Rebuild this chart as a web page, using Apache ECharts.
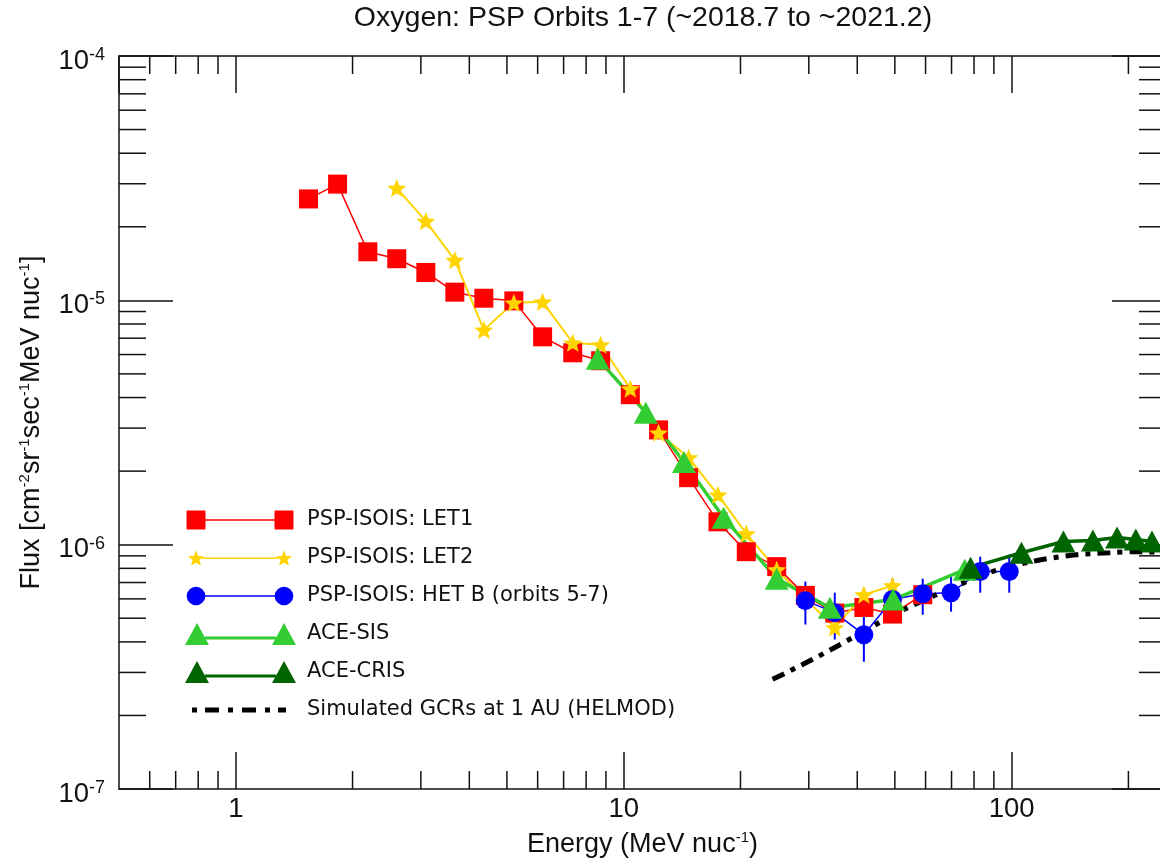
<!DOCTYPE html>
<html>
<head>
<meta charset="utf-8">
<title>Oxygen: PSP Orbits 1-7</title>
<script src="https://cdn.jsdelivr.net/npm/echarts@6.0.0/dist/echarts.min.js"></script>
<style>
html, body { margin: 0; padding: 0; background: #fff; }
#main { width: 1160px; height: 862px; }
</style>
</head>
<body>
<div id="main"></div>
<script>
// energies in MeV/nuc, flux in (cm^2 sr sec MeV/nuc)^-1
const energyLet1 = [1.54, 1.83, 2.19, 2.60, 3.09, 3.67, 4.36, 5.21, 6.18, 7.39, 8.72, 10.4, 12.3, 14.7, 17.5, 20.7, 24.8, 29.4, 35.0, 41.6, 49.3, 59.0];
const fluxLet1 = [2.60e-5, 2.99e-5, 1.58e-5, 1.48e-5, 1.30e-5, 1.08e-5, 1.02e-5, 9.95e-6, 7.09e-6, 6.10e-6, 5.66e-6, 4.11e-6, 2.95e-6, 1.88e-6, 1.24e-6, 9.36e-7, 8.13e-7, 6.2e-7, 5.25e-7, 5.53e-7, 5.2e-7, 6.24e-7];

const energyLet2 = [2.60, 3.09, 3.67, 4.36, 5.21, 6.18, 7.39, 8.72, 10.4, 12.3, 14.7, 17.5, 20.7, 24.8, 29.4, 35.0, 41.6, 49.3];
const fluxLet2 = [2.88e-5, 2.11e-5, 1.46e-5, 7.57e-6, 9.77e-6, 9.86e-6, 6.70e-6, 6.58e-6, 4.35e-6, 2.87e-6, 2.27e-6, 1.60e-6, 1.11e-6, 7.9e-7, 6.0e-7, 4.58e-7, 6.24e-7, 6.80e-7];

const energyHet = [29.4, 35.0, 41.6, 49.3, 59.0, 69.8, 83.0, 98.6];
const fluxHet = [5.9e-7, 5.27e-7, 4.28e-7, 5.96e-7, 6.3e-7, 6.36e-7, 7.76e-7, 7.76e-7];
const fluxHetLow = [4.71e-7, 4.09e-7, 3.32e-7, 4.84e-7, 5.17e-7, 5.32e-7, 6.36e-7, 6.36e-7];
const fluxHetHigh = [7.06e-7, 6.36e-7, 5.17e-7, 7.26e-7, 7.26e-7, 7.40e-7, 8.93e-7, 9.1e-7];

const energySis = [8.57, 11.4, 14.3, 18.1, 24.8, 34.0, 49.5, 75.7];
const fluxSis = [5.77e-6, 3.47e-6, 2.18e-6, 1.29e-6, 7.26e-7, 5.52e-7, 5.96e-7, 7.9e-7];

const energyCris = [78.4, 106, 136, 162, 187, 209, 230];
const fluxCris = [8.05e-7, 9.27e-7, 1.03e-6, 1.04e-6, 1.07e-6, 1.05e-6, 1.03e-6];

const energyGcr = [24.2, 28.9, 35.4, 42.3, 51.4, 61.5, 73.5, 84.2, 98.9, 120, 147, 179, 210, 250];
const fluxGcr = [2.81e-7, 3.23e-7, 3.83e-7, 4.49e-7, 5.32e-7, 6.07e-7, 6.86e-7, 7.54e-7, 8.13e-7, 8.69e-7, 9.10e-7, 9.27e-7, 9.36e-7, 9.3e-7];

const xRange = [0.5, 250];
const yRange = [1e-7, 1e-4];
const minorSteps = [2, 3, 4, 5, 6, 7, 8, 9];

function zip(a, b, c) {
    return a.map(function (v, i) { return c ? [v, b[i], c[i]] : [v, b[i]]; });
}

function minorValues(lo, hi) {
    var out = [];
    for (var e = Math.floor(Math.log10(lo)); e <= Math.ceil(Math.log10(hi)); e++) {
        minorSteps.forEach(function (m) {
            var v = m * Math.pow(10, e);
            if (v > lo * 1.0001 && v < hi * 0.9999) out.push(v);
        });
    }
    return out;
}

function starPath(cx, cy, R, r) {
    var pts = [];
    for (var i = 0; i < 10; i++) {
        var a = -Math.PI / 2 + i * Math.PI / 5;
        var d = i % 2 ? r : R;
        pts.push((cx + d * Math.cos(a)).toFixed(2) + ' ' + (cy + d * Math.sin(a)).toFixed(2));
    }
    return 'M' + pts.join('L') + 'Z';
}

function circlePath(cx, cy, r) {
    return 'M' + (cx - r) + ' ' + cy + 'A' + r + ' ' + r + ' 0 1 1 ' + (cx + r) + ' ' + cy +
        'A' + r + ' ' + r + ' 0 1 1 ' + (cx - r) + ' ' + cy + 'Z';
}

// legend icons: symbol - line - symbol, all in a 111x22 box
const box = 'M0 0M111 22';
const icons = {
    let1: 'path://' + box + 'M1.5 1.5H20.5V10.25H89.5V1.5H108.5V20.5H89.5V11.75H20.5V20.5H1.5Z',
    let2: 'path://' + box + starPath(11, 11.8, 8.5, 3.6) + starPath(99, 11.8, 8.5, 3.6) + 'M17 10.6H93V12H17Z',
    het: 'path://' + box + circlePath(11, 11, 9.3) + circlePath(99, 11, 9.3) + 'M20 10.25H90V11.75H20Z',
    tri: 'path://' + box + 'M0 22L12 0L24 22ZM87 22L99 0L111 22ZM20 13.5H91V16.5H20Z',
    gcr: 'path://' + box + 'M7 8.5H12V13.5H7ZM20 8.5H34V13.5H20ZM43 8.5H48V13.5H43ZM57 8.5H71V13.5H57ZM80 8.5H85V13.5H80ZM93 8.5H101V13.5H93Z'
};

const black = '#111';
const tickStyle = { color: black, width: 1.5 };

function powLabel(v) {
    return '{b|10}{s|' + Math.round(Math.log10(v)) + '}';
}

function plainLabel(v) {
    return '{b|' + Math.round(v) + '}';
}

const labelRich = {
    b: { fontFamily: 'Liberation Sans', fontSize: 27.5, lineHeight: 30, color: black },
    s: { fontFamily: 'Liberation Sans', fontSize: 18, lineHeight: 12, verticalAlign: 'top', color: black }
};
const nameRich = {
    a: { fontFamily: 'Liberation Sans', fontSize: 27, lineHeight: 30, color: black },
    s: { fontFamily: 'Liberation Sans', fontSize: 15, lineHeight: 12, verticalAlign: 'top', color: black }
};

function minorX(params, api) {
    var cs = params.coordSys;
    var px = api.coord([api.value(0), 1e-6])[0];
    var yb = cs.y + cs.height;
    return {
        type: 'group', children: [
            { type: 'line', shape: { x1: px, y1: yb, x2: px, y2: yb - 18 }, style: { stroke: black, lineWidth: 1.5 } },
            { type: 'line', shape: { x1: px, y1: cs.y, x2: px, y2: cs.y + 18 }, style: { stroke: black, lineWidth: 1.5 } }
        ]
    };
}

function minorY(params, api) {
    var cs = params.coordSys;
    var py = api.coord([1, api.value(1)])[1];
    var xr = cs.x + cs.width;
    return {
        type: 'group', children: [
            { type: 'line', shape: { x1: cs.x, y1: py, x2: cs.x + 27, y2: py }, style: { stroke: black, lineWidth: 1.5 } },
            { type: 'line', shape: { x1: xr, y1: py, x2: xr - 27, y2: py }, style: { stroke: black, lineWidth: 1.5 } }
        ]
    };
}

function errorBar(params, api) {
    var top = api.coord([api.value(0), api.value(2)]);
    var bottom = api.coord([api.value(0), api.value(1)]);
    return {
        type: 'line',
        shape: { x1: top[0], y1: top[1], x2: bottom[0], y2: bottom[1] },
        style: { stroke: '#0000ff', lineWidth: 2 }
    };
}

function logAxis(range, pos, extra) {
    var ax = {
        type: 'log',
        logBase: 10,
        min: range[0],
        max: range[1],
        position: pos,
        splitLine: { show: false },
        axisLine: { show: true, onZero: false, lineStyle: tickStyle },
        axisTick: { show: true, inside: true, lineStyle: tickStyle },
        axisLabel: { show: false }
    };
    return Object.assign(ax, extra);
}

const chart = echarts.init(document.getElementById('main'));
chart.setOption({
    animation: false,
    backgroundColor: '#fff',
    title: {
        text: 'Oxygen: PSP Orbits 1-7 (~2018.7 to ~2021.2)',
        left: 643,
        top: 4,
        padding: 0,
        textAlign: 'center',
        textStyle: { fontFamily: 'Liberation Sans', fontSize: 28.5, fontWeight: 'normal', color: black }
    },
    grid: { left: 119, top: 56, width: 1047, height: 733, containLabel: false, outerBoundsMode: 'none' },
    legend: {
        orient: 'vertical',
        left: 180,
        top: 504,
        itemWidth: 123,
        itemHeight: 22,
        itemGap: 16,
        selectedMode: false,
        textStyle: { fontFamily: 'DejaVu Sans', fontSize: 21, color: black },
        data: [
            { name: 'PSP-ISOIS: LET1', icon: icons.let1 },
            { name: 'PSP-ISOIS: LET2', icon: icons.let2 },
            { name: 'PSP-ISOIS: HET B (orbits 5-7)', icon: icons.het },
            { name: 'ACE-SIS', icon: icons.tri },
            { name: 'ACE-CRIS', icon: icons.tri },
            { name: 'Simulated GCRs at 1 AU (HELMOD)', icon: icons.gcr }
        ]
    },
    xAxis: [
        logAxis(xRange, 'bottom', {
            axisTick: { show: true, inside: true, length: 37, lineStyle: tickStyle },
            axisLabel: { show: true, margin: 5, formatter: plainLabel, rich: labelRich, showMinLabel: false, showMaxLabel: false },
            name: '{a|Energy (MeV nuc}{s|-1}{a|)}',
            nameLocation: 'middle',
            nameGap: 41,
            nameMoveOverlap: false,
            nameTextStyle: { rich: nameRich }
        }),
        logAxis(xRange, 'top', {
            axisTick: { show: true, inside: true, length: 37, lineStyle: tickStyle }
        })
    ],
    yAxis: [
        logAxis(yRange, 'left', {
            axisTick: { show: true, inside: true, length: 54, lineStyle: tickStyle },
            axisLabel: { show: true, margin: 14, padding: [10, 0, 0, 0], formatter: powLabel, rich: labelRich, showMinLabel: true, showMaxLabel: true },
            name: '{a|Flux [cm}{s|-2}{a|sr}{s|-1}{a|sec}{s|-1}{a|MeV nuc}{s|-1}{a|]}',
            nameLocation: 'middle',
            nameGap: 72,
            nameMoveOverlap: false,
            nameTextStyle: { rich: nameRich }
        }),
        logAxis(yRange, 'right', {
            axisTick: { show: true, inside: true, length: 54, lineStyle: tickStyle }
        })
    ],
    series: [
        {
            name: 'minorX', type: 'custom', silent: true, z: 1,
            data: minorValues(xRange[0], xRange[1]).map(function (v) { return [v, 1e-6]; }),
            encode: { x: 0, y: 1 }, renderItem: minorX
        },
        {
            name: 'minorY', type: 'custom', silent: true, z: 1,
            data: minorValues(yRange[0], yRange[1]).map(function (v) { return [1, v]; }),
            encode: { x: 0, y: 1 }, renderItem: minorY
        },
        {
            name: 'PSP-ISOIS: LET1', type: 'line', data: zip(energyLet1, fluxLet1),
            symbol: 'rect', symbolSize: 19,
            lineStyle: { color: '#ff0000', width: 1.5 },
            itemStyle: { color: '#ff0000', borderWidth: 0 }
        },
        {
            name: 'PSP-ISOIS: LET2', type: 'line', data: zip(energyLet2, fluxLet2),
            symbol: 'path://' + starPath(0, 0, 10, 4.4), symbolSize: 19, symbolKeepAspect: true,
            lineStyle: { color: '#ffd400', width: 2 },
            itemStyle: { color: '#ffd400', borderWidth: 0 }
        },
        {
            name: 'HET B errors', type: 'custom', silent: true,
            data: zip(energyHet, fluxHetLow, fluxHetHigh),
            encode: { x: 0, y: [1, 2] }, renderItem: errorBar
        },
        {
            name: 'PSP-ISOIS: HET B (orbits 5-7)', type: 'line', data: zip(energyHet, fluxHet),
            symbol: 'circle', symbolSize: 19,
            lineStyle: { color: '#0000ff', width: 1.5 },
            itemStyle: { color: '#0000ff', borderWidth: 0 }
        },
        {
            name: 'Simulated GCRs at 1 AU (HELMOD)', type: 'line', data: zip(energyGcr, fluxGcr),
            symbol: 'none', smooth: 0.3,
            lineStyle: { color: '#000', width: 5, type: [13, 7, 5, 7], cap: 'butt' },
            itemStyle: { color: '#000', borderWidth: 0 }
        },
        {
            name: 'ACE-SIS', type: 'line', data: zip(energySis, fluxSis),
            symbol: 'triangle', symbolSize: [24, 22],
            lineStyle: { color: '#33cc33', width: 3.5 },
            itemStyle: { color: '#33cc33', borderWidth: 0 }
        },
        {
            name: 'ACE-CRIS', type: 'line', data: zip(energyCris, fluxCris),
            symbol: 'triangle', symbolSize: [24, 22],
            lineStyle: { color: '#006400', width: 3.5 },
            itemStyle: { color: '#006400', borderWidth: 0 }
        }
    ]
});
</script>
</body>
</html>
